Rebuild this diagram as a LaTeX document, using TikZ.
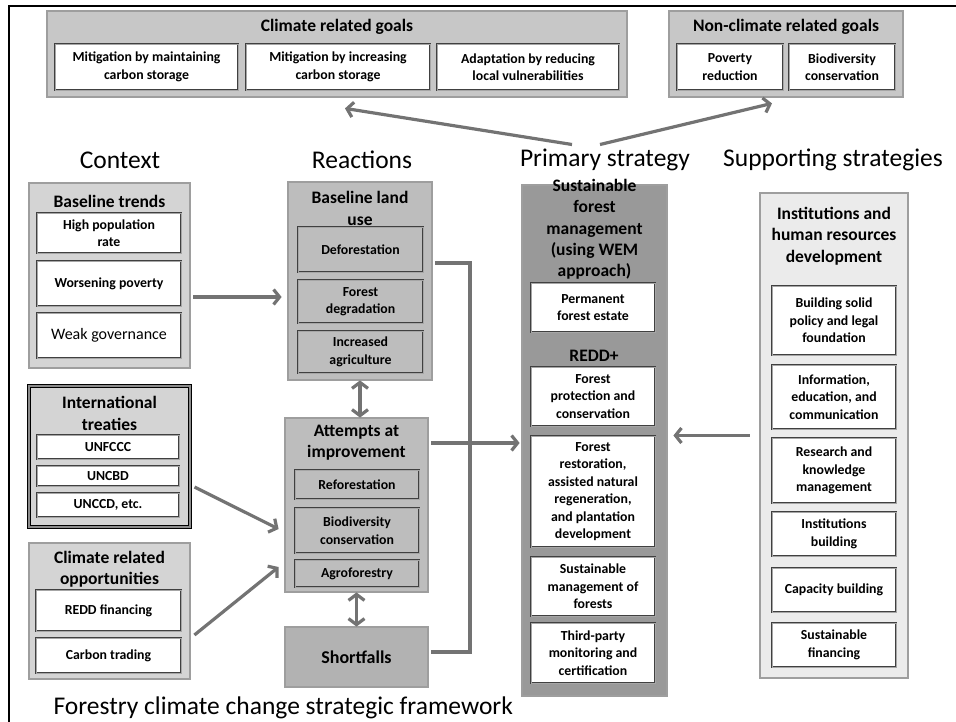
\documentclass[tikz,border=0pt]{standalone}
\usepackage{fontspec}
\setmainfont{Carlito}
\usetikzlibrary{arrows.meta}
\tikzset{
	frame line/.style={line width=2.2pt,black},
	box size/.style 2 args={minimum width=#1pt,minimum height=#2pt},
	outer box/.style={rectangle,draw=black!70,double=black!38,double distance=1.1pt,line width=0.8pt,inner sep=0pt},
	goal box/.style={outer box,fill=black!22},
	trend box/.style={outer box,fill=black!17},
	treaty box/.style={outer box,draw=black,line width=1.1pt,double=black!45,fill=black!17},
	react box/.style={outer box,fill=black!26},
	short box/.style={outer box,fill=black!30,font=\bfseries\fontsize{18}{20}\selectfont},
	primary box/.style={outer box,fill=black!40},
	support box/.style={outer box,fill=black!8},
	item/.style={rectangle,draw=black!75,double=black!35,double distance=0.8pt,line width=0.6pt,
		fill=white,inner sep=0pt,align=center,font=\bfseries\fontsize{13.8}{17.5}\selectfont},
	react item/.style={item,fill=black!26},
	box title/.style={align=center,font=\bfseries\fontsize{17.5}{21.5}\selectfont},
	big title/.style={align=center,font=\bfseries\fontsize{17.5}{21.3}\selectfont},
	heading/.style={font=\fontsize{25.5}{28}\selectfont},
	link/.style={line width=3.2pt,black!55},
	big arrow/.style={link,-{Straight Barb[length=6pt,width=15pt]}},
	both arrow/.style={link,{Straight Barb[length=6pt,width=16pt]}-{Straight Barb[length=6pt,width=16pt]}}
}

\begin{document}
\begin{tikzpicture}[x=1pt,y=-1pt]
	\useasboundingbox (0,0) rectangle (956,722);
	\draw[frame line] (9,722) -- (9,6) -- (956,6);

	% goals
	\node[goal box,box size={580}{86}] (cgoal) at (337,54) {};
	\node[box title] (cgoal-t) at (337,27) {Climate related goals};
	\node[item,box size={183}{46}] (mitig1) at (146.5,67) {Mitigation by maintaining\\carbon storage};
	\node[item,box size={184}{46}] (mitig2) at (338,67) {Mitigation by increasing\\carbon storage};
	\node[item,box size={182}{46}] (adapt) at (528,67) {Adaptation by reducing\\local vulnerabilities};
	\node[goal box,box size={234}{86}] (ncgoal) at (786,54) {};
	\node[box title] (ncgoal-t) at (786,27) {Non-climate related goals};
	\node[item,box size={106}{46}] (povred) at (730,67) {Poverty\\reduction};
	\node[item,box size={106}{46}] (biodiv) at (842,67) {Biodiversity\\conservation};

	% column headings
	\node[heading] (chead) at (120,160) {Context};
	\node[heading] (rhead) at (362,160) {Reactions};
	\node[heading] (phead) at (605,160) {Primary strategy};
	\node[heading] (shead) at (833,160) {Supporting strategies};

	% context
	\node[trend box,box size={161}{185}] (trends) at (109.5,275.5) {};
	\node[box title] (trends-t) at (109.5,201) {Baseline trends};
	\node[item,box size={144}{40}] (popul) at (109,233) {High population\\rate};
	\node[item,box size={144}{45}] (worse) at (109,283.5) {Worsening poverty};
	\node[item,box size={144}{45},font=\fontsize{16}{18}\selectfont] (govern) at (109,335.5) {Weak governance};

	\node[treaty box,box size={161}{141}] (treaties) at (109.5,456.5) {};
	\node[box title] (treaties-t) at (109.5,413.5) {International\\treaties};
	\node[item,box size={142}{24}] (unfccc) at (108,447) {UNFCCC};
	\node[item,box size={142}{20}] (uncbd) at (108,476) {UNCBD};
	\node[item,box size={142}{24}] (unccd) at (108,505) {UNCCD, etc.};

	\node[trend box,box size={161}{136}] (opport) at (109.5,611) {};
	\node[box title] (opport-t) at (109.5,569) {Climate related\\opportunities};
	\node[item,box size={145}{41}] (reddfin) at (108.5,610.5) {REDD financing};
	\node[item,box size={145}{35}] (carbon) at (108.5,655.5) {Carbon trading};

	% reactions
	\node[react box,box size={144}{198}] (landuse) at (360,281) {};
	\node[box title] (landuse-t) at (360,208.5) {Baseline land\\use};
	\node[react item,box size={125}{45}] (defor) at (360.5,249.5) {Deforestation};
	\node[react item,box size={125}{43}] (degrad) at (360.5,301.5) {Forest\\degradation};
	\node[react item,box size={125}{42}] (agri) at (360.5,352) {Increased\\agriculture};

	\node[react box,box size={143}{174}] (attempts) at (356.5,505) {};
	\node[box title] (attempts-t) at (356.5,442.5) {Attempts at\\improvement};
	\node[react item,box size={124}{29}] (refor) at (357,484.5) {Reforestation};
	\node[react item,box size={124}{45}] (biocons) at (357,530.5) {Biodiversity\\conservation};
	\node[react item,box size={124}{27}] (agrof) at (357,573.5) {Agroforestry};

	\node[short box,box size={143}{60}] (shortfall) at (356.5,657) {Shortfalls};

	% primary strategy
	\node[primary box,box size={145}{511}] (primary) at (594.5,440.5) {};
	\node[big title] (primary-t) at (594.5,229.5) {Sustainable\\forest\\management\\(using WEM\\approach)};
	\node[item,box size={124}{49}] (permest) at (593,307.5) {Permanent\\forest estate};
	\node[big title] (redd) at (594,356) {REDD+};
	\node[item,box size={124}{59}] (protect) at (593,396.5) {Forest\\protection and\\conservation};
	\node[item,box size={124}{111}] (restor) at (593,491.5) {Forest\\restoration,\\assisted natural\\regeneration,\\and plantation\\development};
	\node[item,box size={124}{59}] (susman) at (593,586.5) {Sustainable\\management of\\forests};
	\node[item,box size={124}{60}] (thirdp) at (593,653) {Third-party\\monitoring and\\certification};

	% supporting strategies
	\node[support box,box size={148}{485}] (support) at (834,435.5) {};
	\node[big title] (support-t) at (834,236) {Institutions and\\human resources\\development};
	\node[item,box size={124}{69}] (policy) at (834,320.5) {Building solid\\policy and legal\\foundation};
	\node[item,box size={124}{64}] (infoed) at (834,397) {Information,\\education, and\\communication};
	\node[item,box size={124}{65}] (research) at (834,470.5) {Research and\\knowledge\\management};
	\node[item,box size={124}{44}] (instit) at (834,534) {Institutions\\building};
	\node[item,box size={124}{44}] (capac) at (834,590) {Capacity building};
	\node[item,box size={124}{44}] (finance) at (834,645) {Sustainable\\financing};

	\node[heading,anchor=west] (caption) at (50,708) {Forestry climate change strategic framework};

	% connectors
	\draw[big arrow] ([xshift=-33pt,yshift=1pt]phead.north) -- ([xshift=8pt,yshift=-11pt]cgoal.south);
	\draw[big arrow] ([xshift=-5pt,yshift=1pt]phead.north) -- ([xshift=-14pt,yshift=-6pt]ncgoal.south);
	\draw[big arrow] ([xshift=3pt,yshift=-21.5pt]trends.east) -- ([xshift=-6pt,yshift=-16pt]landuse.west);
	\draw[big arrow] ([xshift=4pt,yshift=-30.5pt]treaties.east) -- ([xshift=-6pt,yshift=-24pt]attempts.west);
	\draw[big arrow] ([xshift=4pt,yshift=-24pt]opport.east) -- ([xshift=-6pt,yshift=-62pt]attempts.west);
	\draw[both arrow] (landuse.south) -- (landuse.south |- attempts.north);
	\draw[both arrow] (attempts.south) -- (shortfall.north);

	\coordinate (join) at (470,443);
	\draw[link] ([xshift=3pt,yshift=18pt]landuse.east) -| (join) |- ([xshift=3pt,yshift=5pt]shortfall.east);
	\draw[link] ([xshift=3pt,yshift=62pt]attempts.east) -- (join);
	\draw[big arrow] (join) -- ([xshift=-2pt]primary.west |- join);
	\draw[big arrow] ([xshift=-10pt]support.west) -- ([xshift=6pt]primary.east |- support.west);
\end{tikzpicture}
\end{document}
